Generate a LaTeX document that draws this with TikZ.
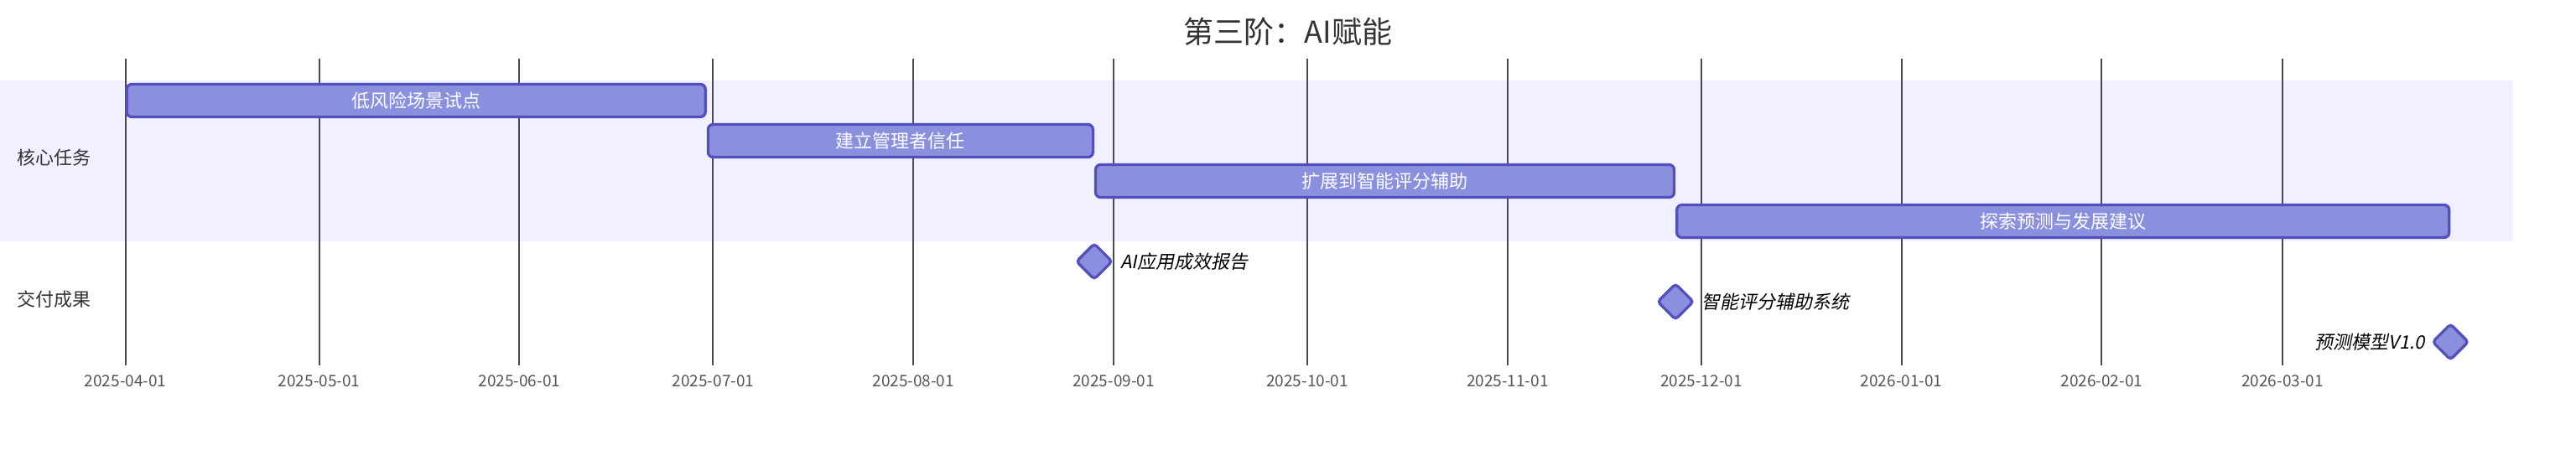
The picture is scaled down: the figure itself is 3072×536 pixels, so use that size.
\documentclass[tikz,border=0pt]{standalone}
\usepackage{fontspec}
\setmainfont{Noto Sans CJK SC}
\newfontfamily\slfont[FakeSlant=0.2]{Noto Sans CJK SC}
\definecolor{barfill}{HTML}{8A90DD}
\definecolor{barline}{HTML}{534FBC}
\definecolor{bandc}{HTML}{F0F0FF}
\definecolor{gridc}{HTML}{4A4A4A}
\definecolor{txtc}{HTML}{333333}
\definecolor{tickc}{HTML}{555555}
\tikzset{
  gridline/.style={draw=gridc, line width=2pt},
  ticklab/.style={text=tickc, font=\fontsize{19}{22}\selectfont, inner sep=0pt},
  taskbar/.style={draw=barline, fill=barfill, line width=3.3pt, rounded corners=6pt,
    minimum height=39pt, inner sep=0pt, text=white, font=\fontsize{22}{26}\selectfont},
  milestone/.style={draw=barline, fill=barfill, line width=3.3pt, rounded corners=4pt,
    rotate=45, minimum size=30pt, inner sep=0pt},
  mlab/.style={text=black, font=\fontsize{22}{26}\slfont, inner sep=0pt},
  lanelab/.style={text=txtc, font=\fontsize{22}{26}\selectfont, inner sep=0pt, anchor=west},
  titlelab/.style={text=txtc, font=\fontsize{36}{42}\selectfont, inner sep=0pt}
}
\begin{document}
\begin{tikzpicture}[x=1pt,y=-1pt]
\useasboundingbox (0,0) rectangle (3072,536);
% section band
\fill[bandc] (0,96) rectangle (2997,288);
% grid and ticks
\foreach \d/\lab [count=\i] in {0/2025-04-01,30/2025-05-01,61/2025-06-01,91/2025-07-01,
  122/2025-08-01,153/2025-09-01,183/2025-10-01,214/2025-11-01,244/2025-12-01,
  275/2026-01-01,306/2026-02-01,334/2026-03-01}{
  \pgfmathsetmacro{\xx}{149.6+7.702*\d}
  \coordinate (gt\i) at (\xx,70);
  \coordinate (gb\i) at (\xx,436);
  \draw[gridline] (gt\i) -- (gb\i);
  \node[ticklab] (tick\i) at (\xx,455) {\lab};
}
% title
\node[titlelab] (title) at (1536,38) {第三阶：AI赋能};
% lane labels
\node[lanelab] (lane1) at (20,188) {核心任务};
\node[lanelab] (lane2) at (20,357) {交付成果};
% task bars
\node[taskbar, minimum width=690pt] (bar1) at (496.2,120) {低风险场景试点};
\node[taskbar, minimum width=459pt] (bar2) at (1073.9,168) {建立管理者信任};
\node[taskbar, minimum width=690pt] (bar3) at (1651.5,216) {扩展到智能评分辅助};
\node[taskbar, minimum width=921pt] (bar4) at (2460.2,264) {探索预测与发展建议};
% milestones
\node[milestone] (ms1) at (1304.9,312) {};
\node[milestone] (ms2) at (1998.1,360) {};
\node[milestone] (ms3) at (2922.3,408) {};
\node[mlab, anchor=west] (ml1) at (1336,312) {AI应用成效报告};
\node[mlab, anchor=west] (ml2) at (2029,360) {智能评分辅助系统};
\node[mlab, anchor=east] (ml3) at (2892,408) {预测模型V1.0};
\end{tikzpicture}
\end{document}
